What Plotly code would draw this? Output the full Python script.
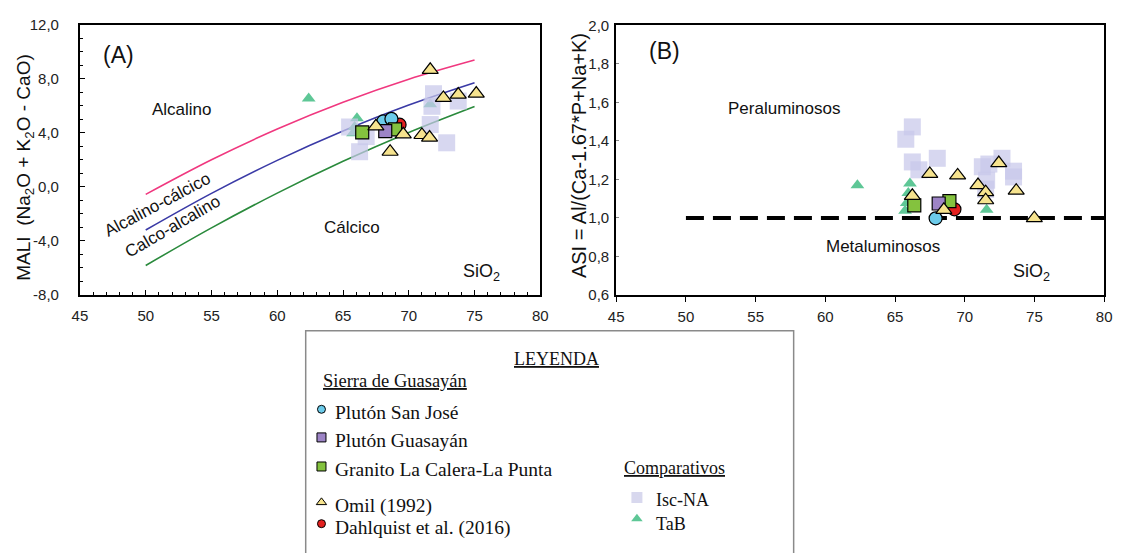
import plotly.graph_objects as go

W, H = 1124, 553

# ---------------- DATA ----------------
# Boundary curves (Frost et al.)
bound_sio2 = [50, 55, 60, 65, 70, 75]
alk_alkcalc = [-0.56, 2.00, 4.27, 6.25, 7.95, 9.37]
alkcalc_calcalk = [-3.20, -0.49, 1.95, 4.12, 6.04, 7.69]
calcalk_calc = [-5.82, -3.04, -0.47, 1.88, 4.02, 5.94]

# Panel A (SiO2 vs MALI)
isc_a_x = [66.26, 66.76, 65.5, 71.88, 71.76, 73.76, 71.63, 72.88]
isc_a_y = [2.59, 3.71, 4.42, 6.88, 5.95, 6.34, 4.6, 3.25]
tab_a_x = [62.39, 66.06, 65.88, 65.76, 71.63]
tab_a_y = [6.53, 5.07, 4.42, 3.95, 6.1]
omil_a_x = [71.63, 72.63, 73.76, 75.13, 67.5, 69.58, 71.0, 71.58, 68.58]
omil_a_y = [8.65, 6.57, 6.82, 6.89, 4.47, 3.88, 3.83, 3.64, 2.59]
sj_a_x = [68.06, 68.68]
sj_a_y = [4.83, 5.02]
dq_a_x = [69.3]
dq_a_y = [4.59]
gu_a_x = [68.21]
gu_a_y = [4.11]
gr_a_x = [66.46, 68.96]
gr_a_y = [4.02, 4.24]

# Panel B (SiO2 vs ASI)
isc_b_x = [66.24, 65.77, 66.24, 66.71, 68.03, 71.26, 71.73, 72.67, 73.5, 73.5, 71.57, 71.5]
isc_b_y = [1.473, 1.409, 1.291, 1.250, 1.310, 1.266, 1.280, 1.310, 1.243, 1.213, 1.196, 1.149]
tab_b_x = [62.3, 66.07, 65.95, 65.84, 65.72, 71.57]
tab_b_y = [1.17, 1.179, 1.129, 1.078, 1.037, 1.042]
omil_b_x = [67.49, 69.49, 70.95, 72.44, 73.69, 66.24, 71.5, 71.5, 68.5, 74.99]
omil_b_y = [1.229, 1.221, 1.171, 1.285, 1.142, 1.115, 1.134, 1.092, 1.042, 0.999]
sj_b_x = [67.91]
sj_b_y = [0.998]
dq_b_x = [69.26]
dq_b_y = [1.045]
gu_b_x = [68.13]
gu_b_y = [1.075]
gr_b_x = [66.38, 68.9]
gr_b_y = [1.065, 1.087]

asi_limit_x = [50, 80]
asi_limit_y = [1.0, 1.0]

x_ticks = [45, 50, 55, 60, 65, 70, 75, 80]
x_ticktext = ["45", "50", "55", "60", "65", "70", "75", "80"]
ya_ticks = [-8, -4, 0, 4, 8, 12]
ya_ticktext = ["-8,0", "-4,0", "0,0", "4,0", "8,0", "12,0"]
yb_ticks = [0.6, 0.8, 1.0, 1.2, 1.4, 1.6, 1.8, 2.0]
yb_ticktext = ["0,6", "0,8", "1,0", "1,2", "1,4", "1,6", "1,8", "2,0"]

# ---------------- STYLES ----------------
C_ISC = "rgba(200,200,234,0.72)"
C_TAB = "#5ec796"
C_OMIL = "#f6e38e"
C_SJ = "#6ccbea"
C_DQ = "#e3201f"
C_GU = "#9d84c6"
C_GR = "#84c23e"
SANS = "Liberation Sans, Arial, sans-serif"
SERIF = "Liberation Serif, Times New Roman, serif"


def px(x):
    return x / W


def py(y):
    return 1 - y / H


fig = go.Figure()


def add_points(xa, ya, xs, ys, symbol, size, color, line_w=1.2):
    fig.add_trace(go.Scatter(
        x=xs, y=ys, xaxis=xa, yaxis=ya, mode="markers", showlegend=False,
        marker=dict(symbol=symbol, size=size, color=color,
                    line=dict(color="black", width=line_w)),
        cliponaxis=False))


# Panel A curves
for vals, col in [(alk_alkcalc, "#f0387f"), (alkcalc_calcalk, "#3a3aa6"), (calcalk_calc, "#2a8a3c")]:
    fig.add_trace(go.Scatter(x=bound_sio2, y=vals, xaxis="x", yaxis="y", mode="lines",
                             line=dict(color=col, width=1.6, shape="spline"), showlegend=False))

for xa, ya, d in [
    ("x", "y", dict(tab=(tab_a_x, tab_a_y), isc=(isc_a_x, isc_a_y), omil=(omil_a_x, omil_a_y),
                    gr=(gr_a_x, gr_a_y), gu=(gu_a_x, gu_a_y), sj=(sj_a_x, sj_a_y), dq=(dq_a_x, dq_a_y))),
    ("x2", "y2", dict(tab=(tab_b_x, tab_b_y), isc=(isc_b_x, isc_b_y), omil=(omil_b_x, omil_b_y),
                      gr=(gr_b_x, gr_b_y), gu=(gu_b_x, gu_b_y), sj=(sj_b_x, sj_b_y), dq=(dq_b_x, dq_b_y))),
]:
    if xa == "x2":
        fig.add_trace(go.Scatter(x=asi_limit_x, y=asi_limit_y, xaxis="x2", yaxis="y2", mode="lines",
                                 line=dict(color="black", width=4, dash="18px,9px"), showlegend=False))
    add_points(xa, ya, *d["tab"], "triangle-up", 12, C_TAB, 0)
    add_points(xa, ya, *d["isc"], "square", 17, C_ISC, 0)
    add_points(xa, ya, *d["dq"], "circle", 13, C_DQ)
    add_points(xa, ya, *d["sj"], "circle", 13, C_SJ)
    add_points(xa, ya, *d["gr"], "square", 13, C_GR)
    add_points(xa, ya, *d["gu"], "square", 13, C_GU)
    add_points(xa, ya, *d["omil"], "triangle-up", 14, C_OMIL)

# ---------------- LEGEND (overlay axis in pixel units) ----------------
leg_items = [
    ("circle", C_SJ, 1, 318, 413, 8),
    ("square", C_GU, 1, 318, 442, 9),
    ("square", C_GR, 1, 318, 472, 9),
    ("triangle-up", C_OMIL, 1, 318, 509, 9),
    ("circle", C_DQ, 1, 318, 531, 8),
    ("square", "#d8d8ee", 0, 638, 504, 11),
    ("triangle-up", C_TAB, 0, 638, 526, 10),
]
for sym, col, lw, lx, ly, sz in leg_items:
    fig.add_trace(go.Scatter(x=[lx], y=[ly], xaxis="x3", yaxis="y3", mode="markers",
                             showlegend=False,
                             marker=dict(symbol=sym, size=sz, color=col, line=dict(color="black", width=lw)),
                             cliponaxis=False, hoverinfo="skip"))

axis_common = dict(showline=True, linecolor="black", linewidth=2, mirror=True, showgrid=False,
                   zeroline=False, tickfont=dict(family=SANS, size=15, color="#222"))

fig.update_layout(
    width=W, height=H, margin=dict(l=0, r=0, t=0, b=0),
    paper_bgcolor="white", plot_bgcolor="rgba(0,0,0,0)", showlegend=False,
    xaxis=dict(domain=[px(73), px(540)], range=[45, 80], anchor="y",
               tickvals=x_ticks, ticktext=x_ticktext, ticks="inside", ticklen=5, tickcolor="black",
               minor=dict(dtick=1, ticks="inside", ticklen=3, tickcolor="black"),
               ticklabelstandoff=6, **axis_common),
    yaxis=dict(domain=[py(295), py(16)], range=[-8, 12], anchor="x",
               tickvals=ya_ticks, ticktext=ya_ticktext, ticks="inside", ticklen=5, tickcolor="black",
               minor=dict(dtick=1, ticks="inside", ticklen=3, tickcolor="black"),
               ticklabelstandoff=16, **axis_common),
    xaxis2=dict(domain=[px(617), px(1112)], range=[45, 80], anchor="y2",
                tickvals=x_ticks, ticktext=x_ticktext, ticks="outside", ticklen=5, tickcolor="black",
                ticklabelstandoff=2, **axis_common),
    yaxis2=dict(domain=[py(295), py(17)], range=[0.6, 2.0], anchor="x2",
                tickvals=yb_ticks, ticktext=yb_ticktext, ticks="inside", ticklen=3, tickcolor="#888",
                ticklabelstandoff=2, **axis_common),
    xaxis3=dict(domain=[0, 1], range=[0, W], visible=False, fixedrange=True, anchor="y3"),
    yaxis3=dict(domain=[0, 1], range=[H, 0], visible=False, fixedrange=True, anchor="x3"),
)

ann = []


def text(x, y, s, size=14, family=SANS, xanchor="center", angle=0, color="#111"):
    ann.append(dict(x=px(x), y=py(y), xref="paper", yref="paper", text=s, showarrow=False,
                    xanchor=xanchor, yanchor="middle", textangle=angle,
                    font=dict(family=family, size=size, color=color)))


# Panel A texts
text(112, 47, "(A)", 23)
text(177, 104, "Alcalino", 17)
text(152, 202, "Alcalino-cálcico", 17, angle=-28)
text(167, 224, "Calco-alcalino", 17, angle=-30)
text(349, 225, "Cálcico", 17)
text(480, 272, "SiO<sub>2</sub>", 18)
text(17, 163, "MALI  (Na<sub>2</sub>O + K<sub>2</sub>O - CaO)", 19, angle=-90)
# Panel B texts
text(666, 43, "(B)", 23)
text(787, 103, "Peraluminosos", 17)
text(888, 245, "Metaluminosos", 17)
text(1038, 272, "SiO<sub>2</sub>", 18)
text(580, 151, "ASI = Al/(Ca-1.67*P+Na+K)", 20, angle=-90)
# Legend texts
text(556, 361, "<u>LEYENDA</u>", 18, SERIF)
text(318, 384, "<u>Sierra de Guasayán</u>", 18.5, SERIF, xanchor="left")
text(330, 416, "Plutón San José", 19.5, SERIF, xanchor="left")
text(330, 445, "Plutón Guasayán", 19.5, SERIF, xanchor="left")
text(330, 475, "Granito La Calera-La Punta", 19.5, SERIF, xanchor="left")
text(330, 513, "Omil (1992)", 19.5, SERIF, xanchor="left")
text(330, 535, "Dahlquist et al. (2016)", 19.5, SERIF, xanchor="left")
text(623, 474, "<u>Comparativos</u>", 18, SERIF, xanchor="left")
text(655, 507, "Isc-NA", 18, SERIF, xanchor="left")
text(655, 531, "TaB", 18, SERIF, xanchor="left")

fig.update_layout(annotations=ann)
fig.add_shape(type="rect", xref="paper", yref="paper", x0=px(302), x1=px(797), y0=-0.05, y1=py(332),
              line=dict(color="#8a8a8a", width=1.5), fillcolor="rgba(0,0,0,0)", layer="below")

fig.write_html("out.html")
